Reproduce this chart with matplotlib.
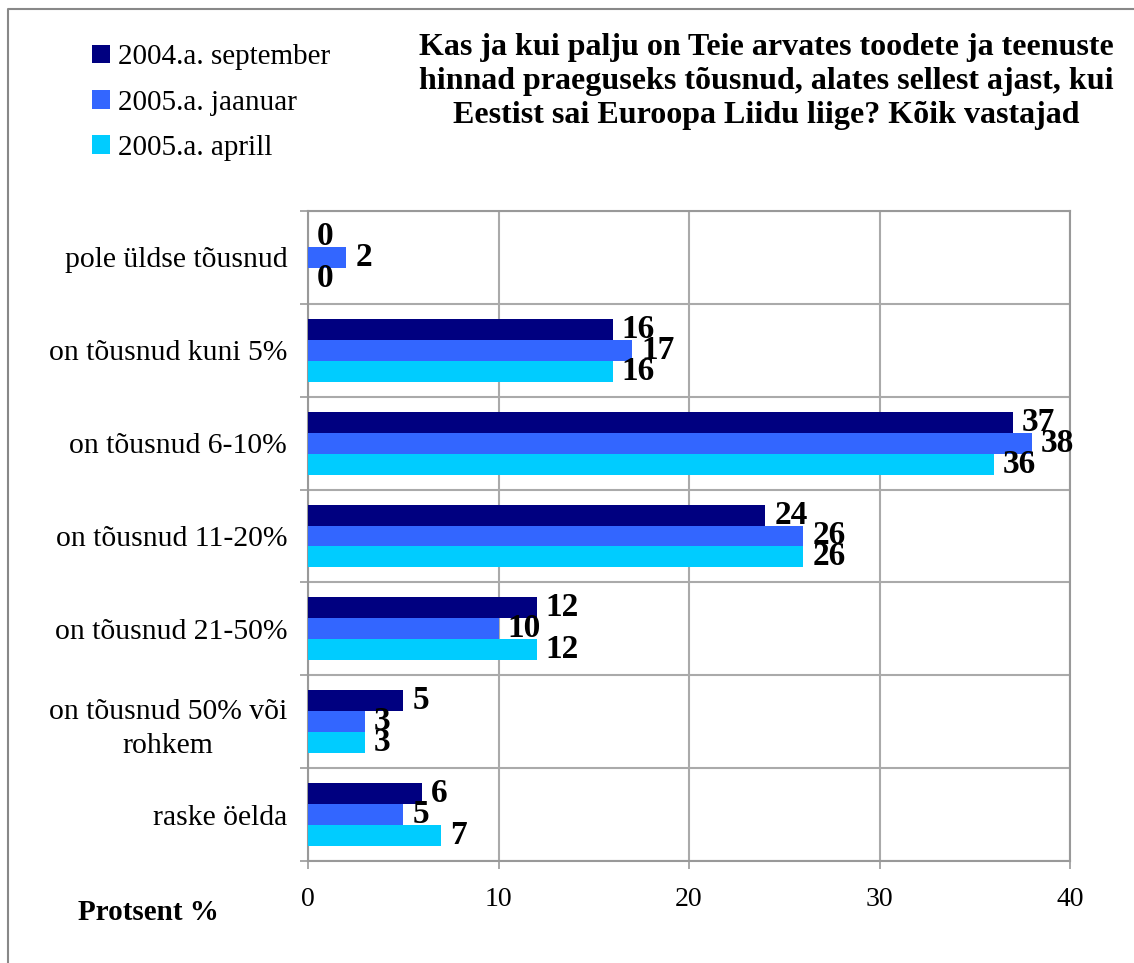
import numpy as np
import matplotlib
matplotlib.use("Agg")
import matplotlib.pyplot as plt
from matplotlib.lines import Line2D
from matplotlib.ticker import FixedLocator, MultipleLocator

plt.rcParams['font.family'] = ['Liberation Serif', 'DejaVu Serif']

# data
categories = ["pole üldse tõusnud", "on tõusnud kuni 5%", "on tõusnud 6-10%",
              "on tõusnud 11-20%", "on tõusnud 21-50%",
              "on tõusnud 50% või\nrohkem", "raske öelda"]
series_names = ["2004.a. september", "2005.a. jaanuar", "2005.a. aprill"]
sep_2004 = [0, 16, 37, 24, 12, 5, 6]
jan_2005 = [2, 17, 38, 26, 10, 3, 5]
apr_2005 = [0, 16, 36, 26, 12, 3, 7]
colors = ["#000080", "#3366FF", "#00CCFF"]

title = ("Kas ja kui palju on Teie arvates toodete ja teenuste\n"
         "hinnad praeguseks tõusnud, alates sellest ajast, kui\n"
         "Eestist sai Euroopa Liidu liige? Kõik vastajad")

fig = plt.figure(figsize=(11.34, 9.63), dpi=100)
ax = fig.add_axes([308 / 1134, 1 - 861 / 963, (1070 - 308) / 1134, (861 - 211) / 963])

y = np.arange(len(categories))
h = 0.226
handles = []
for i, (vals, c, name) in enumerate(zip([sep_2004, jan_2005, apr_2005], colors, series_names)):
    pos = y + (i - 1) * h
    b = ax.barh(pos, vals, height=h, color=c, label=name, zorder=3)
    handles.append(b)
    for v, p in zip(vals, pos):
        ax.annotate(str(v), (v, p), xytext=(6.5, 0), textcoords="offset points",
                    va="center", ha="left", fontsize=24, fontweight="bold", zorder=4)

ax.set_xlim(0, 40)
ax.set_ylim(len(categories) - 0.5, -0.5)
ax.xaxis.set_major_locator(MultipleLocator(10))
ax.set_yticks(y)
ax.set_yticklabels(categories, fontsize=21.3, multialignment="center", linespacing=1.4)
ax.yaxis.set_minor_locator(FixedLocator(np.arange(-0.5, len(categories), 1)))
ax.tick_params(axis="y", which="major", length=0, pad=15)
ax.tick_params(axis="y", which="minor", length=6, width=1.2, color="#999999")
ax.tick_params(axis="x", which="major", length=6, width=1.2, color="#999999",
               labelsize=20, pad=13)
ax.grid(True, axis="x", which="major", color="#aaaaaa", linewidth=1.5, zorder=0)
ax.grid(True, axis="y", which="minor", color="#aaaaaa", linewidth=1.5, zorder=0)
for s in ax.spines.values():
    s.set_color("#999999")
    s.set_linewidth(1.5)

fig.text(766 / 1134, 1 - 33 / 963, title, ha="center", va="top", fontsize=23,
         fontweight="bold", linespacing=1.22)
fig.text(148 / 1134, 1 - 912 / 963, "Protsent %", ha="center", va="center",
         fontsize=21, fontweight="bold")

fig.legend(handles=handles, labels=series_names, loc="upper left",
           bbox_to_anchor=(66 / 1134, 1 - 18 / 963), frameon=False, fontsize=21,
           handlelength=0.62, handleheight=0.62, handletextpad=0.25, labelspacing=0.66)

# outer border
fig.add_artist(Line2D([8 / 1134, 8 / 1134, 1], [0, 1 - 9 / 963, 1 - 9 / 963],
                      color="#888888", linewidth=1.5, transform=fig.transFigure))

fig.savefig("out.png", dpi=100)
